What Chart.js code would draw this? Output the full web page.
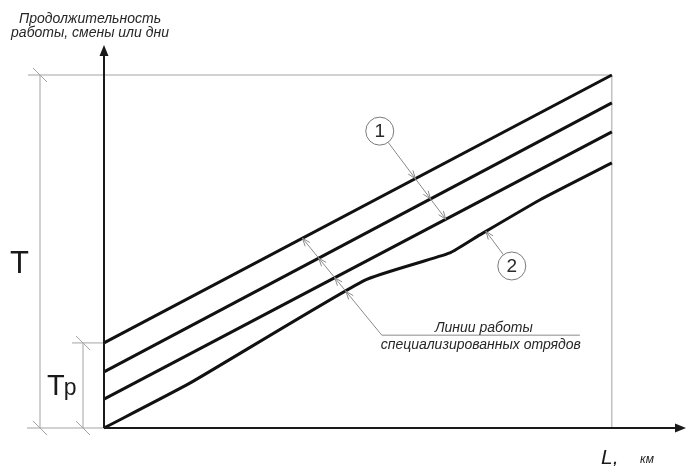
<!DOCTYPE html>
<html>
<head>
<meta charset="utf-8">
<script src="https://cdn.jsdelivr.net/npm/chart.js@4"></script>
<style>
  html, body { margin: 0; padding: 0; background: #fff; }
  #wrap { width: 688px; height: 466px; position: relative; }
</style>
</head>
<body>
<div id="wrap"><canvas id="chart"></canvas></div>
<script>
// length of the route, conventional units (100 = full L)
const lengthX = [0, 100];
// working lines of the specialized teams (duration, 100 = full T)
const team1 = [24.1, 100];
const team2 = [15.9, 92.1];
const team3 = [8.2, 83.9];
// lower line (2) is broken
const team4X = [0, 16.9, 51.4, 68.1, 74.0, 85.8, 100];
const team4 = [0, 12.7, 41.9, 49.6, 54.7, 64.6, 75.1];

const T_TOTAL = 100;
const T_P = 24.1;
const X_MAX = 114.6;
const Y_MAX = 108.5;

const FONT = '"Liberation Sans", Arial, sans-serif';
const GRAY = '#a3a3a3';

function pts(xs, ys) {
  return xs.map((v, i) => ({ x: v, y: ys[i] }));
}

function seg(ctx, x1, y1, x2, y2) {
  ctx.beginPath();
  ctx.moveTo(x1, y1);
  ctx.lineTo(x2, y2);
  ctx.stroke();
}

function slash(ctx, cx, cy) {
  seg(ctx, cx - 7, cy - 7, cx + 7, cy + 7);
}

function solidArrow(ctx, tx, ty, dx, dy) {
  const len = 11, hw = 4.5;
  const n = Math.hypot(dx, dy); dx /= n; dy /= n;
  ctx.beginPath();
  ctx.moveTo(tx, ty);
  ctx.lineTo(tx - dx * len - dy * hw, ty - dy * len + dx * hw);
  ctx.lineTo(tx - dx * len + dy * hw, ty - dy * len - dx * hw);
  ctx.closePath();
  ctx.fill();
}

function openArrow(ctx, tx, ty, dx, dy) {
  const len = 8, hw = 3;
  const n = Math.hypot(dx, dy); dx /= n; dy /= n;
  ctx.beginPath();
  ctx.moveTo(tx - dx * len - dy * hw, ty - dy * len + dx * hw);
  ctx.lineTo(tx, ty);
  ctx.lineTo(tx - dx * len + dy * hw, ty - dy * len - dx * hw);
  ctx.stroke();
}

// intersection of segment a-b with polyline of a dataset
function hit(a, b, poly) {
  for (let i = 0; i < poly.length - 1; i++) {
    const p = poly[i], q = poly[i + 1];
    const d = (b.x - a.x) * (q.y - p.y) - (b.y - a.y) * (q.x - p.x);
    if (Math.abs(d) < 1e-9) continue;
    const t = ((p.x - a.x) * (q.y - p.y) - (p.y - a.y) * (q.x - p.x)) / d;
    const u = ((p.x - a.x) * (b.y - a.y) - (p.y - a.y) * (b.x - a.x)) / d;
    if (t >= 0 && t <= 1 && u >= 0 && u <= 1) {
      return { x: a.x + t * (b.x - a.x), y: a.y + t * (b.y - a.y), t: t };
    }
  }
  return null;
}

function leader(chart, from, to, sets, r) {
  const ctx = chart.ctx;
  const hits = [];
  sets.forEach(i => {
    const poly = chart.getDatasetMeta(i).data.map(e => ({ x: e.x, y: e.y }));
    const h = hit(from, to, poly);
    if (h) hits.push(h);
  });
  if (!hits.length) return;
  const last = hits.reduce((m, h) => (h.t > m.t ? h : m), hits[0]);
  const dx = to.x - from.x, dy = to.y - from.y;
  const n = Math.hypot(dx, dy);
  ctx.save();
  ctx.strokeStyle = '#8a8a8a';
  ctx.lineWidth = 1;
  seg(ctx, from.x + dx / n * r, from.y + dy / n * r, last.x, last.y);
  hits.forEach(h => openArrow(ctx, h.x, h.y, dx, dy));
  ctx.restore();
}

const drawing = {
  id: 'drawing',
  beforeDatasetsDraw(chart) {
    const { ctx, scales: { x, y } } = chart;
    const x0 = x.getPixelForValue(0), xEnd = x.getPixelForValue(100);
    const y0 = y.getPixelForValue(0), yTop = y.getPixelForValue(T_TOTAL), yTp = y.getPixelForValue(T_P);
    const dimT = x0 - 64, dimTp = x0 - 21;
    ctx.save();
    ctx.strokeStyle = GRAY;
    ctx.lineWidth = 1;
    seg(ctx, x0 - 76, yTop, xEnd, yTop);
    seg(ctx, xEnd, yTop, xEnd, y0);
    seg(ctx, x0 - 77, y0, x0, y0);
    seg(ctx, x0 - 32, yTp, x0, yTp);
    seg(ctx, dimT, yTop, dimT, y0);
    seg(ctx, dimTp, yTp, dimTp, y0);
    slash(ctx, dimT, yTop);
    slash(ctx, dimT, y0);
    slash(ctx, dimTp, yTp);
    slash(ctx, dimTp, y0);
    ctx.restore();
  },
  afterDatasetsDraw(chart) {
    const { ctx, scales: { x, y } } = chart;
    const P = (vx, vy) => ({ x: x.getPixelForValue(vx), y: y.getPixelForValue(vy) });
    const o = P(0, 0);
    const yTip = y.getPixelForValue(Y_MAX), xTip = x.getPixelForValue(X_MAX);

    // axes with arrows
    ctx.save();
    ctx.strokeStyle = '#1a1a1a';
    ctx.fillStyle = '#1a1a1a';
    ctx.lineWidth = 2;
    seg(ctx, o.x, o.y, o.x, yTip + 6);
    seg(ctx, o.x, o.y, xTip - 6, o.y);
    solidArrow(ctx, o.x, yTip, 0, -1);
    solidArrow(ctx, xTip, o.y, 1, 0);
    ctx.restore();

    // texts
    ctx.save();
    ctx.fillStyle = '#262626';
    ctx.textAlign = 'center';
    ctx.textBaseline = 'alphabetic';
    ctx.font = 'italic 14px ' + FONT;
    ctx.fillText('Продолжительность', o.x - 14, 23);
    ctx.fillText('работы, смены или дни', o.x - 14, 37);

    ctx.fillStyle = '#1a1a1a';
    ctx.textAlign = 'left';
    ctx.font = '31px ' + FONT;
    ctx.fillText('T', 10, 273);
    ctx.font = '29px ' + FONT;
    ctx.fillText('T', 47, 395);
    const wT = ctx.measureText('T').width;
    ctx.font = '23px ' + FONT;
    ctx.fillText('p', 47 + wT - 1, 395);

    ctx.font = 'italic 21px ' + FONT;
    ctx.fillText('L,', 601, 464);
    ctx.font = 'italic 12px ' + FONT;
    ctx.fillText('км', 640, 463);
    ctx.restore();

    // "Линии работы специализированных отрядов" with leader
    const elbow = P(54.7, 26.3);
    const shelfEnd = P(93.7, 26.3);
    ctx.save();
    ctx.strokeStyle = '#8a8a8a';
    ctx.lineWidth = 1;
    seg(ctx, elbow.x, elbow.y, shelfEnd.x, shelfEnd.y);
    ctx.fillStyle = '#262626';
    ctx.textAlign = 'center';
    ctx.font = 'italic 14px ' + FONT;
    const mid = (elbow.x + shelfEnd.x) / 2;
    ctx.fillText('Линии работы', mid + 3, elbow.y - 3);
    ctx.fillText('специализированных отрядов', mid, elbow.y + 14);
    ctx.restore();
    leader(chart, elbow, P(37.8, 56), [0, 1, 2, 3], 0);

    // numbered callouts
    const c1 = P(54.3, 84.1), c2 = P(80.3, 45.9);
    leader(chart, c1, P(68.3, 57.2), [0, 1, 2], 14);
    leader(chart, c2, P(74.8, 56.5), [3], 14);
    ctx.save();
    ctx.strokeStyle = '#7a7a7a';
    ctx.lineWidth = 1;
    ctx.fillStyle = '#fff';
    [[c1, '1'], [c2, '2']].forEach(([c, t]) => {
      ctx.beginPath();
      ctx.arc(c.x, c.y, 14, 0, Math.PI * 2);
      ctx.fill();
      ctx.stroke();
    });
    ctx.fillStyle = '#2a2a2a';
    ctx.textAlign = 'center';
    ctx.textBaseline = 'middle';
    ctx.font = '19px ' + FONT;
    ctx.fillText('1', c1.x, c1.y + 1);
    ctx.fillText('2', c2.x, c2.y + 1);
    ctx.restore();
  }
};

const lineStyle = {
  borderColor: '#111',
  borderWidth: 3,
  pointRadius: 0,
  fill: false,
  clip: false
};

new Chart(document.getElementById('chart'), {
  type: 'line',
  data: {
    datasets: [
      Object.assign({ label: 'team1', data: pts(lengthX, team1), tension: 0 }, lineStyle),
      Object.assign({ label: 'team2', data: pts(lengthX, team2), tension: 0 }, lineStyle),
      Object.assign({ label: 'team3', data: pts(lengthX, team3), tension: 0 }, lineStyle),
      Object.assign({ label: 'team4', data: pts(team4X, team4), tension: 0.15 }, lineStyle)
    ]
  },
  options: {
    responsive: true,
    maintainAspectRatio: false,
    animation: false,
    layout: { padding: { left: 104, right: 2, top: 45, bottom: 38 } },
    plugins: {
      legend: { display: false },
      tooltip: { enabled: false }
    },
    scales: {
      x: { type: 'linear', min: 0, max: X_MAX, display: false },
      y: { type: 'linear', min: 0, max: Y_MAX, display: false }
    }
  },
  plugins: [drawing]
});
</script>
</body>
</html>
